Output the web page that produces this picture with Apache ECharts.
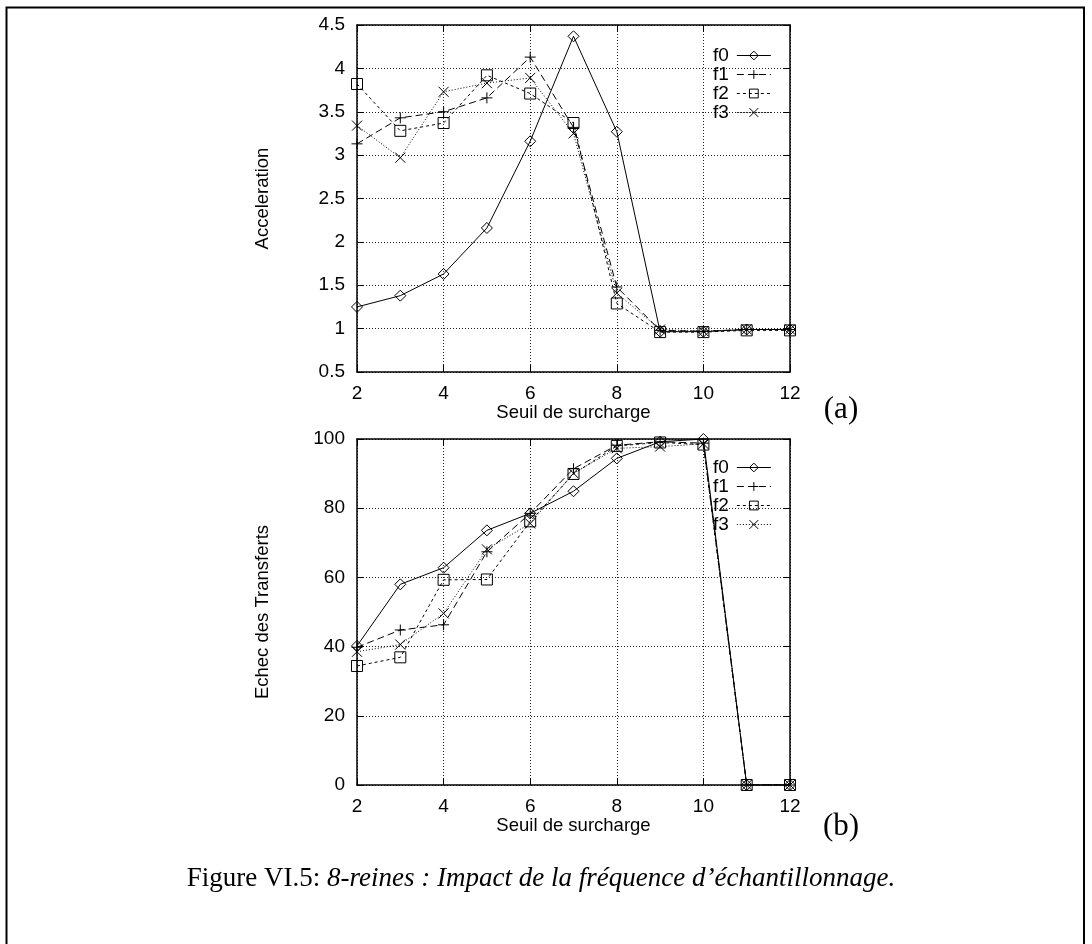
<!DOCTYPE html>
<html>
<head>
<meta charset="utf-8">
<script src="https://cdn.jsdelivr.net/npm/echarts@6/dist/echarts.min.js"></script>
<style>
html,body{margin:0;padding:0;background:#fff;}
#c{width:1092px;height:944px;}
</style>
</head>
<body>
<div id="c"></div>
<script>
// ---- data ----
var seuils = [2, 3, 4, 5, 6, 7, 8, 9, 10, 11, 12];
var seriesNames = ['f0', 'f1', 'f2', 'f3'];
var accF0 = [1.25, 1.38, 1.63, 2.16, 3.16, 4.37, 3.27, 0.965, 0.965, 0.99, 0.99];
var accF1 = [3.13, 3.43, 3.50, 3.66, 4.13, 3.32, 1.48, 0.98, 0.97, 0.99, 0.99];
var accF2 = [3.82, 3.28, 3.37, 3.92, 3.71, 3.37, 1.29, 0.96, 0.96, 0.98, 0.98];
var accF3 = [3.34, 2.97, 3.73, 3.83, 3.89, 3.25, 1.41, 0.99, 0.97, 0.99, 0.99];
var echF0 = [40.2, 58.0, 62.8, 73.6, 78.5, 84.9, 94.4, 99.2, 100, 0, 0];
var echF1 = [39.8, 44.8, 46.3, 67.4, 78.5, 91.4, 98.2, 99.2, 98.8, 0, 0];
var echF2 = [34.4, 36.9, 59.3, 59.4, 76.2, 89.9, 98.0, 99.0, 98.4, 0, 0];
var echF3 = [38.5, 40.6, 49.6, 68.1, 75.6, 90.1, 97.3, 97.8, 98.6, 0, 0];
var xTitle = 'Seuil de surcharge';
var yTitleA = 'Acceleration';
var yTitleB = 'Echec des Transferts';
var captionNormal = 'Figure VI.5: ';
var captionItalic = '8-reines : Impact de la fréquence d\u2019échantillonnage.';

// ---- styles ----
var FONT = '"Liberation Sans", Arial, sans-serif';
var SERIF = '"Liberation Serif", "DejaVu Serif", serif';
var symbols = [
  'path://M5,0L10,5L5,10L0,5Z',
  'path://M0,5L10,5M5,0L5,10',
  'path://M0,0L10,0L10,10L0,10Z',
  'path://M0,0L10,10M10,0L0,10'
];
var symSizes = [11, 11, 11, 10];
var dashes = ['solid', [7, 4], [3, 3], [1, 2]];

function pairs(vals) {
  return seuils.map(function (x, i) { return [x, vals[i]]; });
}

function mkSeries(name, idx, vals, g) {
  return {
    type: 'line',
    name: name,
    xAxisIndex: g * 2,
    yAxisIndex: g * 2,
    data: pairs(vals),
    symbol: symbols[idx],
    symbolSize: symSizes[idx],
    showSymbol: true,
    animation: false,
    color: '#000',
    lineStyle: { color: '#000', width: 1, type: dashes[idx] },
    itemStyle: { color: 'rgba(0,0,0,0)', borderColor: '#000', borderWidth: 1 },
    emphasis: { disabled: true },
    z: 3
  };
}

function xAxes(g, labelMargin, nameGap) {
  return [{
    type: 'value', gridIndex: g, min: 2, max: 12, interval: 2,
    name: xTitle, nameLocation: 'middle', nameGap: nameGap,
    nameTextStyle: { fontFamily: FONT, fontSize: 18.5, color: '#000' },
    axisLine: { show: true, onZero: false, lineStyle: { color: '#000', width: 1.5 } },
    axisTick: { show: true, inside: true, length: 7, lineStyle: { color: '#000', width: 1 } },
    axisLabel: { fontFamily: FONT, fontSize: 19, color: '#000', margin: labelMargin },
    splitLine: { show: true, lineStyle: { color: '#222', width: 1, type: [1, 2] } }
  }, {
    type: 'value', gridIndex: g, position: 'top', min: 2, max: 12, interval: 2,
    axisLine: { show: true, onZero: false, lineStyle: { color: '#000', width: 1.5 } },
    axisTick: { show: true, inside: true, length: 7, lineStyle: { color: '#000', width: 1 } },
    axisLabel: { show: false },
    splitLine: { show: false }
  }];
}

function yAxes(g, min, max, interval, title) {
  return [{
    type: 'value', gridIndex: g, min: min, max: max, interval: interval,
    name: title, nameLocation: 'middle', nameGap: 85, nameRotate: 90,
    nameTextStyle: { fontFamily: FONT, fontSize: 18.5, color: '#000' },
    axisLine: { show: true, onZero: false, lineStyle: { color: '#000', width: 1.5 } },
    axisTick: { show: true, inside: true, length: 7, lineStyle: { color: '#000', width: 1 } },
    axisLabel: { fontFamily: FONT, fontSize: 19, color: '#000', margin: 12 },
    splitLine: { show: true, lineStyle: { color: '#222', width: 1, type: [1, 2] } }
  }, {
    type: 'value', gridIndex: g, position: 'right', min: min, max: max, interval: interval,
    axisLine: { show: true, onZero: false, lineStyle: { color: '#000', width: 1.5 } },
    axisTick: { show: true, inside: true, length: 7, lineStyle: { color: '#000', width: 1 } },
    axisLabel: { show: false },
    splitLine: { show: false }
  }];
}

function mkLegend(top) {
  return {
    data: seriesNames,
    orient: 'vertical',
    left: 708,
    top: top,
    align: 'right',
    itemWidth: 34,
    itemHeight: 11,
    itemGap: 0,
    selectedMode: false,
    itemStyle: { color: 'rgba(0,0,0,0)', borderColor: '#000', borderWidth: 1 },
    lineStyle: { width: 1 },
    textStyle: { fontFamily: FONT, fontSize: 19, color: '#000', lineHeight: 18, padding: [0, 3, 0, 0] }
  };
}

var chart = echarts.init(document.getElementById('c'), null, { renderer: 'canvas' });
var option = {
  backgroundColor: '#fff',
  animation: false,
  grid: [
    { left: 357, top: 25, width: 433, height: 347 },
    { left: 357, top: 439, width: 433, height: 346 }
  ],
  xAxis: xAxes(0, 12, 31).concat(xAxes(1, 12, 30)),
  yAxis: yAxes(0, 0.5, 4.5, 0.5, yTitleA).concat(yAxes(1, 0, 100, 20, yTitleB)),
  legend: [mkLegend(41), mkLegend(453)],
  series: [
    mkSeries('f0', 0, accF0, 0),
    mkSeries('f1', 1, accF1, 0),
    mkSeries('f2', 2, accF2, 0),
    mkSeries('f3', 3, accF3, 0),
    mkSeries('f0', 0, echF0, 1),
    mkSeries('f1', 1, echF1, 1),
    mkSeries('f2', 2, echF2, 1),
    mkSeries('f3', 3, echF3, 1)
  ],
  graphic: [
    { type: 'rect', shape: { x: 6.5, y: 7.5, width: 1077.5, height: 1000 },
      style: { fill: 'none', stroke: '#000', lineWidth: 2 }, silent: true },
    { type: 'text', x: 841, y: 410,
      style: { text: '(a)', font: '31px ' + SERIF, fill: '#000', align: 'center', verticalAlign: 'middle' } },
    { type: 'text', x: 841, y: 827,
      style: { text: '(b)', font: '31px ' + SERIF, fill: '#000', align: 'center', verticalAlign: 'middle' } },
    { type: 'text', x: 541, y: 879,
      style: {
        text: '{n|' + captionNormal + '}{i|' + captionItalic + '}',
        align: 'center', verticalAlign: 'middle',
        rich: {
          n: { fontFamily: SERIF, fontSize: 27, color: '#000' },
          i: { fontFamily: SERIF, fontSize: 27, fontStyle: 'italic', color: '#000' }
        }
      } }
  ]
};
chart.setOption(option);
</script>
</body>
</html>
